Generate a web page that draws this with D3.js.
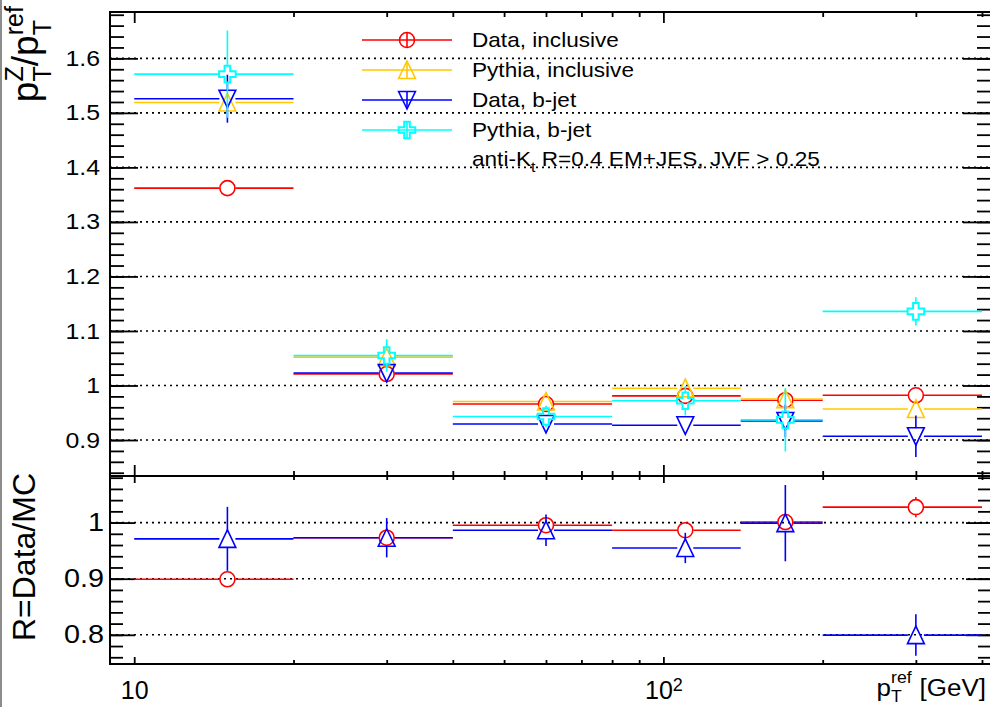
<!DOCTYPE html>
<html>
<head>
<meta charset="utf-8">
<script src="https://cdn.jsdelivr.net/npm/d3@7"></script>
<style>
  body { margin: 0; background: #fff; }
  svg { display: block; }
</style>
</head>
<body>
<div id="chart"></div>
<script>
"use strict";

// Bins in pT ref [GeV]
const binEdges = [10, 20, 40, 80, 140, 200, 400];
const binCenters = [15, 30, 60, 110, 170, 300];

// Upper pad: pTZ / pTref
const dataIncl = [1.362, 1.021, 0.966, 0.981, 0.973, 0.982];
const dataInclErr = [0.004, 0.004, 0.004, 0.005, 0.004, 0.010];
const pythiaIncl = [1.519, 1.052, 0.9705, 0.995, 0.975, 0.957];
const pythiaInclErr = [0.004, 0.005, 0.004, 0.006, 0.005, 0.010];
const dataB = [1.526, 1.023, 0.9295, 0.927, 0.935, 0.907];
const dataBErr = [0.044, 0.012, 0.010, 0.012, 0.030, 0.038];
const pythiaB = [1.571, 1.055, 0.943, 0.972, 0.937, 1.136];
const pythiaBErr = [0.080, 0.030, 0.020, 0.027, 0.058, 0.026];

// Lower pad: Data/MC
const ratioIncl = [0.899, 0.973, 0.9953, 0.9864, 1.001, 1.0275];
const ratioInclErr = [0.005, 0.005, 0.005, 0.006, 0.006, 0.018];
const ratioB = [0.971, 0.973, 0.9864, 0.9548, 0.999, 0.7995];
const ratioBErr = [0.057, 0.035, 0.028, 0.027, 0.068, 0.037];

// Axis ticks / labels
const yTopTicks = [0.9, 1, 1.1, 1.2, 1.3, 1.4, 1.5, 1.6];
const yTopLabels = ["0.9", "1", "1.1", "1.2", "1.3", "1.4", "1.5", "1.6"];
const yBotTicks = [0.8, 0.9, 1];
const yBotLabels = ["0.8", "0.9", "1"];
const xMajorTicks = [10, 100];
const xMinorTicks = [20, 30, 40, 50, 60, 70, 80, 90, 200, 300, 400];

const legendLabels = ["Data, inclusive", "Pythia, inclusive", "Data, b-jet", "Pythia, b-jet"];

const W = 990, H = 707;
const X0 = 110, X1 = 991;     // frame left/right
const YT = 12, YM = 476, YB = 664;  // frame top, pad split, bottom
const FONT = "'Liberation Sans', Arial, Helvetica, sans-serif";
const SX = 1.13; // horizontal stretch of the horizontal text

const x = d3.scaleLog().domain([9, 416]).range([X0, X1]);
const yTop = d3.scaleLinear().domain([0.834, 1.685]).range([YM, YT]);
const yBot = d3.scaleLinear().domain([0.748, 1.083]).range([YB, YM]);

const svg = d3.select("#chart").append("svg")
	.attr("width", W)
	.attr("height", H)
	.style("font-family", FONT);

svg.append("rect").attr("width", W).attr("height", H).attr("fill", "#fff");

// gray page border on the left
svg.append("line").attr("x1", 1).attr("x2", 1).attr("y1", 0).attr("y2", H)
	.attr("stroke", "#8c8c8c").attr("stroke-width", 2);

// dotted grid lines at the major y ticks
function grid(yScale, ticks) {
	svg.append("g").selectAll("line")
		.data(ticks)
		.enter()
		.append("line")
		.attr("x1", X0).attr("x2", X1)
		.attr("y1", d => yScale(d)).attr("y2", d => yScale(d))
		.attr("stroke", "#000")
		.attr("stroke-width", 1.6)
		.attr("stroke-dasharray", "2,4");
}
grid(yTop, yTopTicks);
grid(yBot, yBotTicks);

function cleanAxis(g) {
	g.select(".domain").remove();
	g.selectAll(".tick line").attr("stroke-width", 1.8);
}

// y axes, ticks on both sides pointing inwards
function yAxes(yScale, ticks, labels, lo, hi, majorLen, minorLen, labelSize, labelEnd) {
	let minors = d3.range(Math.round(lo * 50), Math.round(hi * 50) + 1).map(v => v / 50);
	let pad = X0 - labelEnd;

	svg.append("g").attr("transform", `translate(${X0},0)`)
		.call(d3.axisLeft(yScale).tickValues(minors).tickSize(-minorLen).tickFormat(""))
		.call(cleanAxis);
	let gl = svg.append("g").attr("transform", `translate(${X0},0)`)
		.call(d3.axisLeft(yScale).tickValues(ticks).tickSize(-majorLen).tickPadding(pad)
			.tickFormat((d, i) => labels[i]))
		.call(cleanAxis);
	gl.selectAll(".tick text")
		.attr("font-size", labelSize)
		.attr("font-family", FONT)
		.attr("fill", "#000")
		.attr("x", -pad / SX)
		.attr("transform", `scale(${SX},1)`);

	svg.append("g").attr("transform", `translate(${X1},0)`)
		.call(d3.axisRight(yScale).tickValues(minors).tickSize(-minorLen).tickFormat(""))
		.call(cleanAxis);
	svg.append("g").attr("transform", `translate(${X1},0)`)
		.call(d3.axisRight(yScale).tickValues(ticks).tickSize(-majorLen).tickFormat(""))
		.call(cleanAxis);
}
yAxes(yTop, yTopTicks, yTopLabels, 0.84, 1.68, 28, 14, 22, 100);
yAxes(yBot, yBotTicks, yBotLabels, 0.76, 1.08, 25, 13, 25.5, 104);

// x axes (log), ticks at top and bottom of each pad
function xTicks(axisFn, yPos, majorLen, minorLen) {
	svg.append("g").attr("transform", `translate(0,${yPos})`)
		.call(axisFn(x).tickValues(xMinorTicks).tickSize(-minorLen).tickFormat(""))
		.call(cleanAxis);
	return svg.append("g").attr("transform", `translate(0,${yPos})`)
		.call(axisFn(x).tickValues(xMajorTicks).tickSize(-majorLen).tickFormat(""))
		.call(cleanAxis);
}
xTicks(d3.axisTop, YT, 11, 5);
xTicks(d3.axisBottom, YM, 11, 5);
xTicks(d3.axisTop, YM, 7, 4);
let gx = xTicks(d3.axisBottom, YB, 7, 4);

// x tick labels: 10 and 10^2
gx.selectAll(".tick").each(function (d) {
	let t = d3.select(this).append("text")
		.attr("y", 35)
		.attr("text-anchor", "middle")
		.attr("font-size", 25)
		.attr("fill", "#000")
		.text("10");
	if (d === 100) {
		t.append("tspan").attr("dy", -8).attr("font-size", 18).text("2");
	}
});

// frame
svg.append("rect")
	.attr("x", X0).attr("y", YT)
	.attr("width", X1 - X0).attr("height", YB - YT)
	.attr("fill", "none").attr("stroke", "#000").attr("stroke-width", 2);
svg.append("line").attr("x1", X0).attr("x2", X1).attr("y1", YM).attr("y2", YM)
	.attr("stroke", "#000").attr("stroke-width", 2);

// marker shapes
const markers = {
	circle: "M7.5,0A7.5,7.5 0 1,1 -7.5,0A7.5,7.5 0 1,1 7.5,0Z",
	triUp: "M0,-9L8.4,8.5L-8.4,8.5Z",
	triDown: "M0,9L8.4,-8.5L-8.4,-8.5Z",
	cross: "M-2.8,-8.3H2.8V-2.8H8.3V2.8H2.8V8.3H-2.8V2.8H-8.3V-2.8H-2.8Z"
};

function drawSeries(yScale, vals, errs, color, shape) {
	let g = svg.append("g");
	let gap = 8;
	vals.forEach((v, i) => {
		let cx = x(binCenters[i]);
		let cy = yScale(v);
		let xl = x(binEdges[i]);
		let xh = x(binEdges[i + 1]);
		let top = yScale(v + errs[i]);
		let bot = yScale(v - errs[i]);
		let segs = [[xl, cy, cx - gap, cy], [cx + gap, cy, xh, cy]];
		if (cy - top > gap) segs.push([cx, cy - gap, cx, top]);
		if (bot - cy > gap) segs.push([cx, cy + gap, cx, bot]);
		g.selectAll(null)
			.data(segs)
			.enter()
			.append("line")
			.attr("x1", s => s[0]).attr("y1", s => s[1])
			.attr("x2", s => s[2]).attr("y2", s => s[3])
			.attr("stroke", color)
			.attr("stroke-width", 1.6);
		g.append("path")
			.attr("d", markers[shape])
			.attr("transform", `translate(${cx},${cy})`)
			.attr("fill", "none")
			.attr("stroke", color)
			.attr("stroke-width", shape === "cross" ? 2 : 1.6);
	});
}

const RED = "#ff0000", ORANGE = "#ffc800", BLUE = "#0000ff", CYAN = "#00ffff";

drawSeries(yTop, dataIncl, dataInclErr, RED, "circle");
drawSeries(yTop, pythiaIncl, pythiaInclErr, ORANGE, "triUp");
drawSeries(yTop, dataB, dataBErr, BLUE, "triDown");
drawSeries(yTop, pythiaB, pythiaBErr, CYAN, "cross");

drawSeries(yBot, ratioIncl, ratioInclErr, RED, "circle");
drawSeries(yBot, ratioB, ratioBErr, BLUE, "triUp");

// legend
const legendColors = [RED, ORANGE, BLUE, CYAN];
const legendShapes = ["circle", "triUp", "triDown", "cross"];
const legendRowY = d3.scalePoint().domain(legendLabels).range([40, 130]);
const lg = svg.append("g");
legendLabels.forEach((lab, i) => {
	let cy = legendRowY(lab);
	lg.append("line").attr("x1", 362).attr("x2", 452).attr("y1", cy).attr("y2", cy)
		.attr("stroke", legendColors[i]).attr("stroke-width", 1.6);
	lg.append("line").attr("x1", 407).attr("x2", 407).attr("y1", cy - 8).attr("y2", cy + 8)
		.attr("stroke", legendColors[i]).attr("stroke-width", 1.6);
	lg.append("path").attr("d", markers[legendShapes[i]])
		.attr("transform", `translate(407,${cy})`)
		.attr("fill", "none")
		.attr("stroke", legendColors[i])
		.attr("stroke-width", legendShapes[i] === "cross" ? 2 : 1.6);
	lg.append("text")
		.attr("transform", `translate(472,${cy + 7}) scale(${SX},1)`)
		.attr("font-size", 20)
		.attr("fill", "#000")
		.text(lab);
});
let note = lg.append("text")
	.attr("transform", `translate(472,166) scale(${SX},1)`)
	.attr("font-size", 20)
	.attr("fill", "#000");
note.append("tspan").text("anti-K");
note.append("tspan").attr("dy", 6).attr("font-size", 14).text("t");
note.append("tspan").attr("dy", -6).text(" R=0.4 EM+JES, JVF > 0.25");

// simple latex-like layout: plain pieces and stacked sup/sub pieces
function latex(g, parts, size, supShift, subShift) {
	let pos = 0;
	let small = size * 0.68;
	parts.forEach(p => {
		if (p.gap) {
			pos += p.gap;
		} else if (p.sup !== undefined || p.sub !== undefined) {
			let w = 0;
			if (p.sup) {
				let s = g.append("text").attr("x", pos).attr("y", supShift)
					.attr("font-size", small).text(p.sup);
				w = Math.max(w, s.node().getComputedTextLength());
			}
			if (p.sub) {
				let s = g.append("text").attr("x", pos).attr("y", subShift)
					.attr("font-size", small).text(p.sub);
				w = Math.max(w, s.node().getComputedTextLength());
			}
			pos += w;
		} else {
			let s = g.append("text").attr("x", pos).attr("font-size", size).text(p.t);
			pos += s.node().getComputedTextLength();
		}
	});
	g.selectAll("text").attr("fill", "#000");
	return pos;
}

// upper y title, right aligned at the top
let yt = svg.append("g").attr("transform", "translate(38,6) rotate(-90)");
let ytIn = yt.append("g");
let wy = latex(ytIn, [{t: "p"}, {sup: "Z", sub: "T"}, {t: "/"}, {t: "p"}, {sup: "ref", sub: "T"}], 37, -15, 13);
ytIn.attr("transform", `translate(${-wy},0)`);

// lower y title
svg.append("text")
	.attr("transform", `translate(35,473) rotate(-90)`)
	.attr("text-anchor", "end")
	.attr("font-size", 32)
	.attr("fill", "#000")
	.text("R=Data/MC");

// x title, right aligned at the bottom right corner
let xt = svg.append("g").attr("transform", `translate(986,696) scale(${SX},1)`);
let xtIn = xt.append("g");
let wx = latex(xtIn, [{t: "p"}, {sup: "ref", sub: "T"}, {gap: 7}, {t: "[GeV]"}], 23, -13, 6);
xtIn.attr("transform", `translate(${-wx},0)`);
</script>
</body>
</html>
